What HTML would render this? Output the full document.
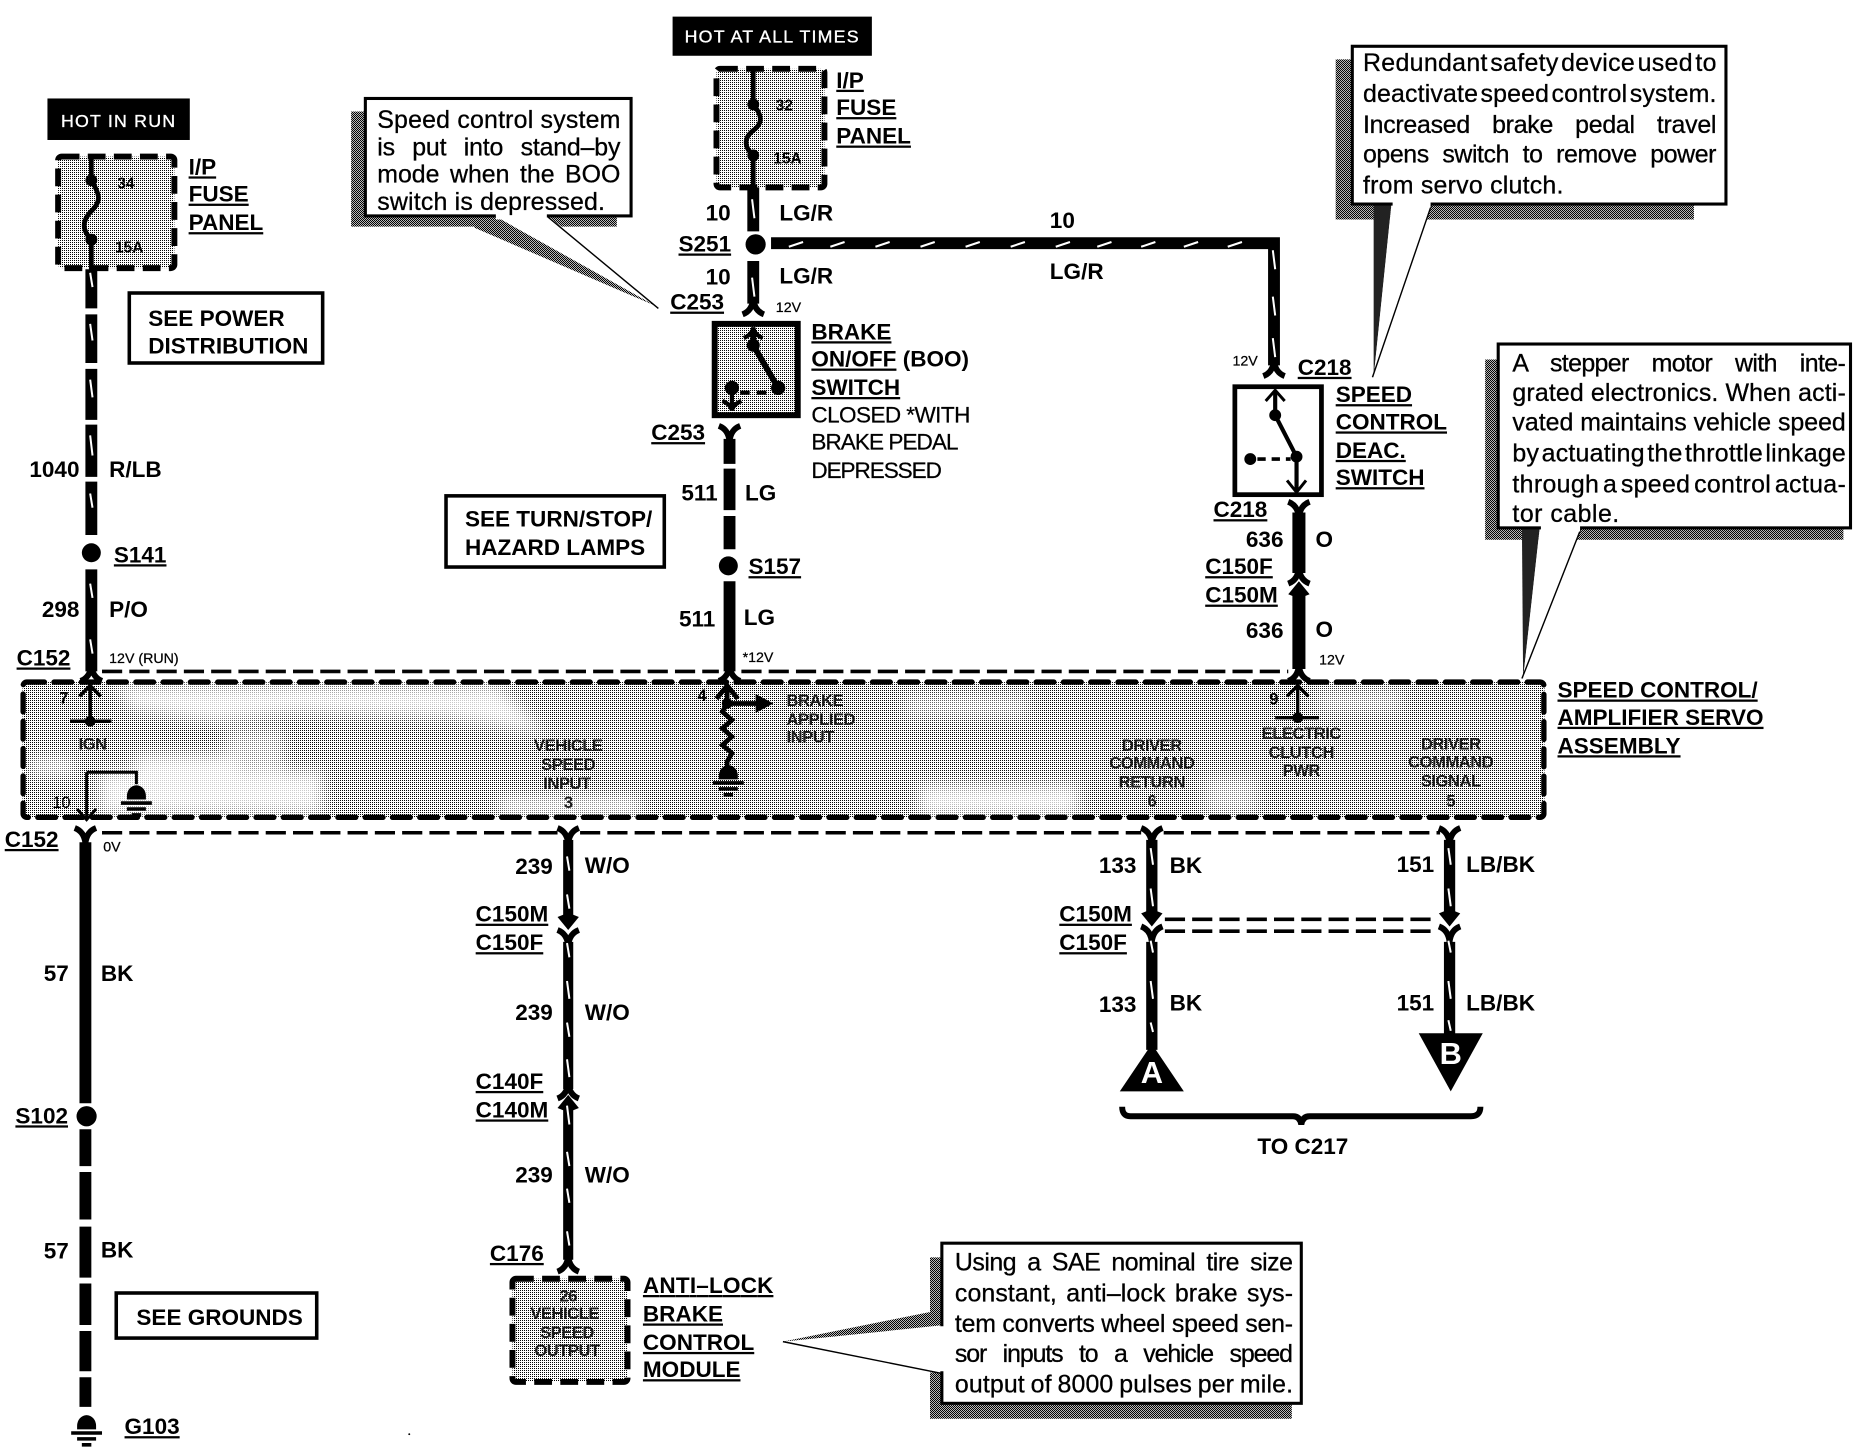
<!DOCTYPE html>
<html><head><meta charset="utf-8"><style>
html,body{margin:0;padding:0;background:#fff}
svg{display:block}
text{font-family:"Liberation Sans",sans-serif;fill:#000}
.b{font-weight:bold;font-size:19px}
.u{font-weight:bold;font-size:19px;text-decoration:underline}
.n{font-size:19px;stroke:#000;stroke-width:.2}
.s{font-size:12px;font-weight:normal;stroke:#000;stroke-width:.2}
.m{font-size:14px;font-weight:bold;text-anchor:middle;fill:#1a1a1a;letter-spacing:-.4px}
.ml{font-size:14px;font-weight:bold;fill:#1a1a1a;letter-spacing:-.4px}
.c{font-size:21px;stroke:#000;stroke-width:.25}
.e{text-anchor:end}
.w{stroke:#000;stroke-width:10;fill:none}
.t{stroke:#fff;stroke-width:1.7;fill:none}
.th{stroke:#000;stroke-width:3;stroke-dasharray:17 6;fill:none}
.dk{stroke:#000;stroke-width:4.5;stroke-dasharray:15 8;stroke-linecap:round}
</style></head><body>
<svg xmlns="http://www.w3.org/2000/svg" width="1860" height="1456" viewBox="0 0 1568 1227.4">
<defs>
<pattern id="p" width="1.686" height="1.686" patternUnits="userSpaceOnUse"><rect width="1.686" height="1.686" fill="#fff"/><rect width=".843" height=".843" fill="#000"/></pattern>
<pattern id="d" width="1.686" height="1.686" patternUnits="userSpaceOnUse"><rect width="1.686" height="1.686" fill="#bbb"/><rect width=".843" height=".843" fill="#000"/><rect x=".843" y=".843" width=".843" height=".843" fill="#000"/></pattern>
<filter id="bl" x="-30%" y="-50%" width="160%" height="200%"><feGaussianBlur stdDeviation="6.5"/></filter>
<g id="fu"><path d="M-9 6Q-1 3 0-7Q1 3 9 6" fill="none" stroke="#000" stroke-width="5"/></g>
<g id="fd"><path d="M-9-6Q-1-3 0 7Q1-3 9-6" fill="none" stroke="#000" stroke-width="5"/></g>
<g id="ad"><path d="M-9-5L-4-7H4L9-5L0 6Z"/></g>
<g id="au"><path d="M-9 5L-4 7H4L9 5L0-6Z"/></g>
<g id="gr"><path d="M-8 0A8 9 0 0 1 8 0V3H-8Z"/><path d="M-13 6H13M-8 11H8M-4 16H4" stroke="#000" stroke-width="3"/></g>
</defs>

<!-- black headers -->
<rect x="40" y="83" width="120" height="35"/>
<text x="100" y="107" text-anchor="middle" font-size="15" style="fill:#fff;letter-spacing:1px;stroke:#fff;stroke-width:.3">HOT IN RUN</text>
<rect x="567" y="14" width="168" height="33"/>
<text x="651" y="36" text-anchor="middle" font-size="15" style="fill:#fff;letter-spacing:1px;stroke:#fff;stroke-width:.3">HOT AT ALL TIMES</text>

<!-- fuse boxes -->
<rect x="49" y="132" width="98" height="94" rx="3" fill="url(#p)" stroke="#000" stroke-width="5" stroke-dasharray="15 7"/>
<path d="M77 133V152C85 165 85 170 77 178C69 186 69 194 77 202V228" fill="none" stroke="#000" stroke-width="4"/>
<circle cx="77" cy="152" r="5"/><circle cx="77" cy="202" r="5"/>
<text x="99" y="159" font-size="13" font-weight="bold">34</text>
<text x="97" y="213" font-size="13" font-weight="bold">15A</text>
<rect x="604" y="58" width="91" height="100" rx="3" fill="url(#p)" stroke="#000" stroke-width="5" stroke-dasharray="15 7"/>
<path d="M635 59V88C643 98 643 104 635 110C627 116 627 124 635 131V158" fill="none" stroke="#000" stroke-width="4"/>
<circle cx="635" cy="88" r="5"/><circle cx="635" cy="131" r="5"/>
<text x="654" y="93" font-size="13" font-weight="bold">32</text>
<text x="652" y="138" font-size="13" font-weight="bold">15A</text>

<!-- left wire upper -->
<path class="w" d="M77 227V260M77 265V306M77 311V354M77 358V402M77 406V451M77 480V566"/>
<circle cx="77" cy="466" r="8"/>
<use href="#fu" x="77" y="568"/>

<!-- middle top wire -->
<path class="w" d="M635 158V195M635 220V256"/>
<circle cx="637" cy="206" r="8.5"/>
<use href="#fu" x="635" y="259"/>
<path class="w" d="M650 205H1074V308"/>
<use href="#fu" x="1074" y="311"/>

<!-- BOO switch -->
<rect x="602.5" y="273" width="70" height="77" fill="url(#p)" stroke="#000" stroke-width="5"/>
<path d="M635 280V291L656 327" fill="none" stroke="#000" stroke-width="5"/>
<path d="M627 285Q634 282 635 276Q636 282 643 285" fill="none" stroke="#000" stroke-width="3.5"/>
<circle cx="635" cy="291" r="5.5"/><circle cx="656" cy="327" r="6"/><circle cx="617" cy="327" r="6"/>
<path d="M624 331H650" stroke="#000" stroke-width="3.5" stroke-dasharray="8 6"/>
<path d="M617 327V345M609 338Q616 341 617 346Q618 341 625 338" fill="none" stroke="#000" stroke-width="3.5"/>

<!-- lower mid wire -->
<use href="#fd" x="615" y="365"/>
<path class="w" d="M615 370V391M615 395V430M615 435V463M615 490V566"/>
<circle cx="614" cy="477" r="8"/>
<use href="#fu" x="615" y="568"/>

<!-- deac switch -->
<rect x="1041" y="326" width="73" height="91" fill="#fff" stroke="#000" stroke-width="4"/>
<path d="M1075 330V350L1093 385V414" fill="none" stroke="#000" stroke-width="3.5"/>
<path d="M1067 338L1075 329L1083 338M1085 405L1093 415L1101 405" fill="none" stroke="#000" stroke-width="2.5"/>
<circle cx="1075" cy="350" r="5"/><circle cx="1093" cy="385" r="5"/><circle cx="1054" cy="387" r="5"/>
<path d="M1060 387H1088" stroke="#000" stroke-width="3" stroke-dasharray="7 5"/>

<!-- 636 wire -->
<use href="#fd" x="1095" y="429"/>
<path d="M1095 432V483" stroke="#000" stroke-width="11"/>
<use href="#fu" x="1095" y="486"/>
<use href="#au" x="1095" y="496"/>
<path d="M1095 498V564" stroke="#000" stroke-width="11"/>
<use href="#fu" x="1095" y="568"/>

<!-- connector dashed lines -->
<path class="th" d="M86 566H606M625 566H1086"/>
<path class="th" d="M86 702H470M489 702H962M981 702H1214"/>

<!-- module -->
<rect x="19" y="575" width="1283" height="114" fill="url(#p)"/>
<g filter="url(#bl)" fill="#fff" opacity=".8">
<path d="M96 578H420L461 618L378 605L250 600L180 608L110 598Z"/>
<path d="M25 640H63V652H25Z"/>
<path d="M84 650H176V686H84Z"/>
<path d="M113 636H200V686H113Z"/>
<path d="M168 650H272V686H168Z"/>
<path d="M190 615H240V650H190Z" opacity=".6"/>
<path d="M420 672H540V686H420Z"/>
<path d="M762 586H867V604H762Z" opacity=".6"/>
<path d="M775 662H909V687H775Z"/>
<path d="M1110 582H1182V600H1110Z" opacity=".6"/>
<path d="M1015 655H1060V685H1015Z" opacity=".6"/>
</g>
<rect x="19.5" y="575" width="1282" height="114" rx="3" fill="none" class="dk"/>

<!-- pin 7 -->
<path d="M76 579V607M59 608H94M67 587L76 578L85 587" fill="none" stroke="#000" stroke-width="3"/>
<circle cx="76" cy="608" r="4.5"/>
<text x="50" y="593" font-size="14" font-weight="bold">7</text>
<text class="m" x="78" y="632">IGN</text>
<!-- pin 10 -->
<path d="M73 651H115V661M73 651V690M65 682L73 691L81 682" fill="none" stroke="#000" stroke-width="2.5"/>
<use href="#gr" x="115" y="671"/>
<text x="44" y="681" font-size="14">10</text>
<!-- pin 4 -->
<path d="M613 579V593L609 600L617 607L609 614L617 621L609 628L617 635L613 642V650M613 593H640M604 589L613 578L622 589" fill="none" stroke="#000" stroke-width="4"/>
<path d="M637 585L652 593L637 601Z"/>
<circle cx="613" cy="593" r="4.5"/>
<use href="#gr" x="614" y="654"/>
<text x="588" y="591" font-size="14" font-weight="bold">4</text>
<text class="ml" x="663" y="595">BRAKE</text><text class="ml" x="663" y="611">APPLIED</text><text class="ml" x="663" y="626">INPUT</text>
<text class="m" x="479" y="633">VEHICLE</text><text class="m" x="479" y="649">SPEED</text><text class="m" x="478" y="665">INPUT</text><text class="m" x="479" y="681">3</text>
<text class="m" x="971" y="633">DRIVER</text><text class="m" x="971" y="648">COMMAND</text><text class="m" x="971" y="664">RETURN</text><text class="m" x="971" y="680">6</text>
<text class="m" x="1097" y="623">ELECTRIC</text><text class="m" x="1097" y="639">CLUTCH</text><text class="m" x="1097" y="654">PWR</text>
<text class="m" x="1223" y="632">DRIVER</text><text class="m" x="1223" y="647">COMMAND</text><text class="m" x="1223" y="663">SIGNAL</text><text class="m" x="1223" y="680">5</text>
<!-- pin 9 -->
<path d="M1094 579V605M1075 605H1112M1085 587L1094 578L1103 587" fill="none" stroke="#000" stroke-width="2.8"/>
<circle cx="1094" cy="605" r="4.5"/>
<text x="1070" y="594" font-size="14" font-weight="bold">9</text>

<!-- wire 57 -->
<use href="#fd" x="72" y="704"/>
<path d="M72 710V930M72 952V983M72 988V1028M72 1034V1077M72 1082V1117M72 1122V1156M72 1161V1186" stroke="#000" stroke-width="10" fill="none"/>
<circle cx="73" cy="941" r="8.5"/>
<use href="#gr" x="73" y="1202"/>

<!-- wire 239 -->
<use href="#fd" x="479" y="704"/>
<path d="M479 708V777M479 794V918M479 930V1062" stroke="#000" stroke-width="8.5" fill="none"/>
<use href="#ad" x="479" y="778"/>
<use href="#fd" x="479" y="790"/>
<use href="#fu" x="479" y="920"/>
<use href="#au" x="479" y="929"/>
<use href="#fu" x="479" y="1066"/>

<!-- ABS box -->
<rect x="432" y="1078" width="97" height="87" rx="3" fill="url(#p)" stroke="#000" stroke-width="5" stroke-dasharray="15 7"/>
<text class="m" x="479" y="1097">26</text><text class="m" x="476" y="1112">VEHICLE</text><text class="m" x="478" y="1128">SPEED</text><text class="m" x="478" y="1143">OUTPUT</text>

<!-- wires 133 / 151 -->
<use href="#fd" x="971" y="704"/><use href="#fd" x="1222" y="704"/>
<path d="M971 708V772M971 794V885M1222 708V772M1222 794V875" stroke="#000" stroke-width="9.5" fill="none"/>
<use href="#ad" x="971" y="775"/><use href="#ad" x="1222" y="775"/>
<use href="#fd" x="971" y="787"/><use href="#fd" x="1222" y="787"/>
<path class="th" d="M982 775H1212M982 785H1212"/>
<path d="M971 880L998 920H944Z"/>
<path d="M1196 871H1250L1223 920Z"/>
<text x="971" y="913" text-anchor="middle" font-size="26" font-weight="bold" style="fill:#fff">A</text>
<text x="1223" y="897" text-anchor="middle" font-size="26" font-weight="bold" style="fill:#fff">B</text>
<path d="M946 933Q946 941 953 941H1090Q1096 941 1097 948Q1098 941 1104 941H1240Q1248 941 1248 933" fill="none" stroke="#000" stroke-width="5"/>

<!-- tracers -->
<path class="t" d="M76 230l2 12M76 273l2 14M76 320l2 15M76 367l2 17M76 416l2 12M76 492l2 12M76 539l2 12
M634 168l2 16M634 234l2 16
M665 208l12-4M700 208l12-4M738 208l12-4M776 208l12-4M814 208l12-4M852 208l12-4M890 208l12-4M925 208l12-4M962 208l12-4M998 208l12-4M1035 208l12-4
M1073 211l2 16M1073 250l2 16M1073 285l2 16
M478 722l2 12M478 754l2 12M478 795l2 12M478 827l2 15M478 862l2 12M478 893l2 15M478 932l2 16M478 971l2 12M478 1002l2 12M478 1038l2 12
M970 715l2 14M970 749l2 15M970 793l2 10M970 827l2 15M970 862l2 8
M1221 715l2 14M1221 749l2 15M1221 793l2 10M1221 827l2 15M1221 860l2 9"/>

<!-- boxes -->
<rect x="109" y="247" width="163" height="59" fill="#fff" stroke="#000" stroke-width="3"/>
<text class="b" x="125" y="275">SEE POWER</text><text class="b" x="125" y="298">DISTRIBUTION</text>
<rect x="376" y="418" width="184" height="60" fill="#fff" stroke="#000" stroke-width="3"/>
<text class="b" x="392" y="444">SEE TURN/STOP/</text><text class="b" x="392" y="468">HAZARD LAMPS</text>
<rect x="98" y="1090" width="169" height="38" fill="#fff" stroke="#000" stroke-width="3"/>
<text class="b" x="115" y="1117">SEE GROUNDS</text>

<!-- callout 1 -->
<path d="M296 94H520V191H296Z" fill="url(#d)"/>
<path d="M400 182L417 182L553 258L400 192Z" fill="url(#d)"/>
<path d="M417 182H462L555 258L553 258Z" fill="#fff"/>
<path d="M462 183L555 260" stroke="#000" stroke-width="1.2"/>
<rect x="308" y="83" width="224" height="99" fill="#fff" stroke="#000" stroke-width="2.6"/>
<path d="M418 180H461V185H418Z" fill="#fff"/>
<text class="c" x="318" y="108" textLength="205">Speed control system</text>
<text class="c" x="318" y="131" textLength="205" word-spacing="9">is put into stand–by</text>
<text class="c" x="318" y="154" textLength="205" word-spacing="3">mode when the BOO</text>
<text class="c" x="318" y="177" textLength="192">switch is depressed.</text>

<!-- callout 2 -->
<path d="M1126 50H1428V185H1126Z" fill="url(#d)"/>
<path d="M1158 172H1173L1158 318Z" fill="#222"/>
<path d="M1173 172H1207L1158 318Z" fill="#fff"/>
<path d="M1207 172L1157 318" stroke="#000" stroke-width="1.2"/>
<rect x="1140" y="39" width="315" height="133" fill="#fff" stroke="#000" stroke-width="2.6"/>
<path d="M1174 170H1206V175H1174Z" fill="#fff"/>
<text class="c" x="1149" y="60" textLength="298" word-spacing="-4">Redundant safety device used to</text>
<text class="c" x="1149" y="86" textLength="298" word-spacing="-4">deactivate speed control system.</text>
<text class="c" x="1149" y="112" textLength="298" word-spacing="13">Increased brake pedal travel</text>
<text class="c" x="1149" y="137" textLength="298" word-spacing="6">opens switch to remove power</text>
<text class="c" x="1149" y="163" textLength="169">from servo clutch.</text>

<!-- callout 3 -->
<path d="M1252 303H1554V455H1252Z" fill="url(#d)"/>
<path d="M1283 445H1298L1284 572Z" fill="#222"/>
<path d="M1298 445H1333L1284 572Z" fill="#fff"/>
<path d="M1333 445L1283 572" stroke="#000" stroke-width="1.2"/>
<rect x="1263" y="290" width="297" height="155" fill="#fff" stroke="#000" stroke-width="2.6"/>
<path d="M1299 443H1332V448H1299Z" fill="#fff"/>
<text class="c" x="1275" y="313" textLength="281" word-spacing="14">A stepper motor with inte-</text>
<text class="c" x="1275" y="338" textLength="281">grated electronics.  When acti-</text>
<text class="c" x="1275" y="363" textLength="281">vated maintains vehicle speed</text>
<text class="c" x="1275" y="389" textLength="281" word-spacing="-4">by actuating the throttle linkage</text>
<text class="c" x="1275" y="415" textLength="281" word-spacing="-3">through a speed control actua-</text>
<text class="c" x="1275" y="440" textLength="90">tor cable.</text>

<!-- callout 4 -->
<path d="M784 1060H1089V1196H784V1157H795V1117H784Z" fill="url(#d)"/>
<path d="M660 1131L794 1104V1118Z" fill="url(#d)"/>
<path d="M662 1131L796 1117V1158Z" fill="#fff"/>
<path d="M660 1131L795 1158" stroke="#000" stroke-width="1.2"/>
<rect x="794" y="1048" width="303" height="135" fill="#fff" stroke="#000" stroke-width="2.6"/>
<path d="M792 1118H797V1156H792Z" fill="#fff"/>
<text class="c" x="805" y="1071" textLength="285" word-spacing="4">Using a SAE nominal tire size</text>
<text class="c" x="805" y="1097" textLength="285" word-spacing="2">constant, anti–lock brake sys-</text>
<text class="c" x="805" y="1123" textLength="285">tem converts wheel speed sen-</text>
<text class="c" x="805" y="1148" textLength="285" word-spacing="9">sor inputs to a vehicle speed</text>
<text class="c" x="805" y="1174" textLength="285" word-spacing="-1">output of 8000 pulses per mile.</text>

<!-- labels -->
<text class="u" x="159" y="147">I/P</text><text class="u" x="159" y="170">FUSE</text><text class="u" x="159" y="194">PANEL</text>
<text class="u" x="705" y="74">I/P</text><text class="u" x="705" y="97">FUSE</text><text class="u" x="705" y="121">PANEL</text>
<text class="b e" x="616" y="186">10</text><text class="b" x="657" y="186">LG/R</text>
<text class="u" x="572" y="212">S251</text>
<text class="b e" x="616" y="240">10</text><text class="b" x="657" y="239">LG/R</text>
<text class="u" x="565" y="261">C253</text><text class="s" x="654" y="263">12V</text>
<text class="u" x="684" y="286">BRAKE</text>
<text x="684" y="309" class="b"><tspan style="text-decoration:underline">ON/OFF</tspan> (BOO)</text>
<text class="u" x="684" y="333">SWITCH</text>
<text class="n" x="684" y="356" textLength="134">CLOSED *WITH</text><text class="n" x="684" y="379" textLength="124">BRAKE PEDAL</text><text class="n" x="684" y="403" textLength="110">DEPRESSED</text>
<text class="u" x="549" y="371">C253</text>
<text class="b e" x="605" y="422">511</text><text class="b" x="628" y="422">LG</text>
<text class="u" x="631" y="484">S157</text>
<text class="b e" x="603" y="528">511</text><text class="b" x="627" y="527">LG</text>
<text class="s" x="626" y="558">*12V</text>
<text class="b e" x="67" y="402">1040</text><text class="b" x="92" y="402">R/LB</text>
<text class="u" x="96" y="474">S141</text>
<text class="b e" x="67" y="520">298</text><text class="b" x="92" y="520">P/O</text>
<text class="u" x="14" y="561">C152</text><text class="s" x="92" y="559">12V (RUN)</text>
<text class="b" x="885" y="192">10</text><text class="b" x="885" y="235">LG/R</text>
<text class="s" x="1039" y="308">12V</text><text class="u" x="1094" y="316">C218</text>
<text class="u" x="1126" y="339">SPEED</text><text class="u" x="1126" y="362">CONTROL</text><text class="u" x="1126" y="386">DEAC.</text><text class="u" x="1126" y="409">SWITCH</text>
<text class="u" x="1023" y="436">C218</text>
<text class="b e" x="1082" y="461">636</text><text class="b" x="1109" y="461">O</text>
<text class="u" x="1016" y="484">C150F</text><text class="u" x="1016" y="508">C150M</text>
<text class="b e" x="1082" y="538">636</text><text class="b" x="1109" y="537">O</text>
<text class="s" x="1112" y="560">12V</text>
<text class="u" x="1313" y="588">SPEED CONTROL/</text><text class="u" x="1313" y="611">AMPLIFIER SERVO</text><text class="u" x="1313" y="635">ASSEMBLY</text>
<text class="u" x="4" y="714">C152</text><text class="s" x="87" y="718">0V</text>
<text class="b e" x="58" y="827">57</text><text class="b" x="85" y="827">BK</text>
<text class="u" x="13" y="947">S102</text>
<text class="b e" x="58" y="1061">57</text><text class="b" x="85" y="1060">BK</text>
<text class="u" x="105" y="1209">G103</text>
<text class="b e" x="466" y="737">239</text><text class="b" x="493" y="736">W/O</text>
<text class="u" x="401" y="777">C150M</text><text class="u" x="401" y="801">C150F</text>
<text class="b e" x="466" y="860">239</text><text class="b" x="493" y="860">W/O</text>
<text class="u" x="401" y="918">C140F</text><text class="u" x="401" y="942">C140M</text>
<text class="b e" x="466" y="997">239</text><text class="b" x="493" y="997">W/O</text>
<text class="u" x="413" y="1063">C176</text>
<text class="u" x="542" y="1090" textLength="110">ANTI–LOCK</text><text class="u" x="542" y="1114">BRAKE</text><text class="u" x="542" y="1138">CONTROL</text><text class="u" x="542" y="1161">MODULE</text>
<text class="b e" x="958" y="736">133</text><text class="b" x="986" y="736">BK</text>
<text class="b e" x="1209" y="735">151</text><text class="b" x="1236" y="735">LB/BK</text>
<text class="u" x="893" y="777">C150M</text><text class="u" x="893" y="801">C150F</text>
<text class="b e" x="958" y="853">133</text><text class="b" x="986" y="852">BK</text>
<text class="b e" x="1209" y="852">151</text><text class="b" x="1236" y="852">LB/BK</text>
<text class="b" x="1060" y="973">TO C217</text>
<circle cx="345" cy="1209" r=".8"/>
</svg>
</body></html>
